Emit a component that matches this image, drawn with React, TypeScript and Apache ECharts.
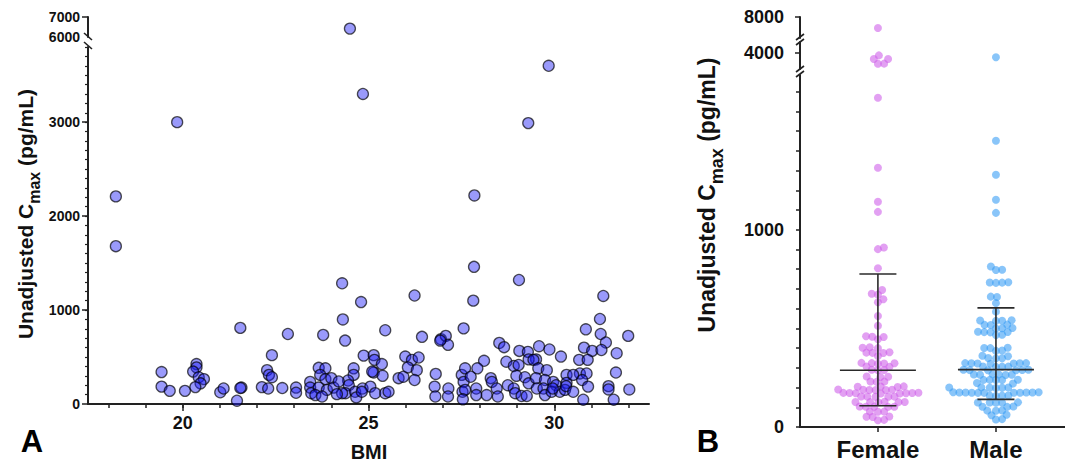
import React, { useEffect, useRef } from "react";
import * as echarts from "echarts";

const FONT = '"Liberation Sans", Arial, Helvetica, sans-serif';

// ---------- Panel A data (BMI vs Cmax) ----------
const aBmi = [
  18.2, 18.2, 19.85, 24.5, 24.85, 29.85, 29.3, 27.85, 27.84, 27.82, 29.05, 24.29, 24.8, 26.24, 31.32, 24.31, 24.37, 21.55, 22.83, 23.78,
  25.45, 27.56, 22.4, 26.44, 26.95, 27.08, 27.14, 26.93, 31.23, 30.85, 31.25, 31.39, 31.99, 31.68, 19.43, 19.43, 19.65, 20.06, 20.37, 20.37,
  20.28, 20.43, 20.57, 20.48, 20.34, 21.01, 21.1, 21.46, 21.58, 21.55, 22.13, 22.3, 22.27, 22.32, 22.4, 22.68, 23.05, 23.05, 23.43, 23.43,
  23.46, 23.66, 23.84, 23.7, 23.84, 24.0, 23.66, 23.88, 24.06, 23.57, 23.75, 24.6, 24.6, 24.45, 24.47, 24.38, 24.64, 24.67, 24.84, 24.87,
  25.14, 25.16, 25.36, 25.14, 25.38, 25.05, 25.18, 25.45, 25.54, 25.81, 25.94, 25.99, 26.17, 26.35, 26.06, 26.3, 26.24, 26.81, 26.78, 26.8,
  27.15, 27.14, 27.51, 27.56, 27.53, 31.66, 31.46, 31.46, 31.6, 32.02, 30.8, 31.02, 31.27, 30.67, 30.9, 30.69, 30.87, 30.75, 30.91, 30.78,
  28.52, 28.65, 29.06, 29.29, 29.51, 29.59, 29.87, 30.18, 28.71, 28.91, 29.04, 29.31, 29.44, 28.11, 27.93, 27.6, 27.75, 28.98, 29.21, 29.31,
  29.57, 29.8, 29.51, 29.75, 29.97, 30.05, 30.33, 30.33, 30.51, 28.75, 28.91, 28.95, 29.12, 29.26, 28.29, 28.32, 28.45, 28.48, 28.18, 27.9,
  27.9, 27.6, 27.54, 29.53, 29.71, 29.75, 29.93, 30.15, 30.29, 30.32, 30.51, 29.96, 24.29, 24.82, 25.1, 24.2, 24.15,
];
const aCmax = [
  2210, 1680, 3000, 6420, 3300, 3600, 2990, 2220, 1460, 1100, 1320, 1285, 1085, 1155, 1150, 900, 675, 810, 745, 735,
  785, 805, 520, 715, 690, 725, 630, 675, 905, 795, 745, 655, 725, 540, 340, 185, 140, 140, 425, 390,
  345, 285, 265, 220, 180, 125, 165, 35, 175, 170, 180, 165, 360, 310, 285, 170, 175, 120, 235, 175,
  115, 385, 380, 310, 265, 275, 175, 150, 175, 95, 80, 380, 310, 250, 200, 115, 130, 70, 165, 515,
  520, 470, 425, 335, 300, 185, 115, 115, 130, 275, 290, 505, 470, 495, 390, 360, 255, 320, 185, 80,
  165, 80, 310, 235, 130, 335, 190, 155, 45, 155, 600, 565, 575, 470, 470, 325, 325, 255, 185, 45,
  650, 605, 565, 555, 475, 615, 580, 505, 450, 405, 415, 475, 470, 460, 380, 380, 290, 300, 285, 220,
  380, 360, 275, 255, 235, 200, 310, 225, 310, 200, 165, 115, 85, 85, 275, 235, 165, 80, 95, 165,
  95, 150, 50, 165, 165, 95, 130, 130, 150, 190, 130, 165, 115, 130, 345, 240, 105,
];
const aXLabels = [20, 25, 30];
const aXMinor = [18, 19, 20, 21, 22, 23, 24, 25, 26, 27, 28, 29, 30, 31, 32];
const aYLabels = [0, 1000, 2000, 3000];
const aYMinor = Array.from({ length: 38 }, (_, i) => (i + 1) * 100);
const aYTopLabels = [6000, 7000];

// ---------- Panel B data (by sex) ----------
const categories = ["Female", "Male"];
const femaleValues = [
  6420, 3600, 3010, 2990, 2220, 2210, 1670, 1315, 1142, 1091,
  910, 902, 805, 695, 676, 672, 648, 633, 563, 513, 460, 458, 456, 445, 404, 402, 400,
  379, 377, 376, 375, 360, 325, 324, 323, 322, 321, 307, 305, 290, 289, 288, 256, 255, 254,
  231, 230, 229, 206, 205, 204, 203, 190, 189, 189, 188, 188, 187, 174, 173, 172, 172, 171, 171, 170, 170,
  155, 154, 154, 153, 153, 128, 127, 127, 126, 126, 125, 104, 103, 103, 102, 102, 79, 78, 77, 53, 52, 51, 36, 34,
];
const maleValues = [
  3300, 1452, 1279, 1152, 1086,
  814, 797, 796, 734, 733, 732, 731, 661, 659, 628, 585, 541, 540, 539, 538, 519, 518, 517,
  502, 501, 500, 483, 482, 481, 480, 468, 466, 402, 401, 400, 388, 386, 361, 359, 350, 349, 348,
  324, 324, 323, 323, 322, 322, 321, 307, 306, 306, 305, 290, 290, 289, 289, 288, 288,
  267, 266, 266, 265, 265, 264, 240, 239, 239, 238, 238, 223, 221, 201, 200, 200, 199, 199, 198,
  176, 176, 175, 175, 175, 175, 174, 174, 174, 173, 173, 160, 159, 159, 158, 125, 124, 124, 123, 123,
  104, 103, 102, 84, 83, 82, 62, 60, 40, 38,
];
// [lower whisker, centre line, upper whisker]
const femaleStats = [108, 288, 776];
const maleStats = [140, 291, 604];
const bYLowLabels = [0, 1000];
const bYLowTicks = Array.from({ length: 18 }, (_, i) => i * 100);
const bYMidLabels = [4000];
const bYTopLabels = [8000];

// ---------- layout constants ----------
const A_LEFT = 88, A_WIDTH = 561, A_XMIN = 17.45, A_XMAX = 32.55;
const A_LOW_TOP = 47, A_LOW_H = 357, A_LOW_MAX = 3800;
const A_TOP_TOP = 17, A_TOP_H = 20, A_TOP_MIN = 6000, A_TOP_MAX = 7000;

const B_LEFT = 800, B_WIDTH = 265, B_XMIN = 0.34, B_XMAX = 2.585;
const B_LOW_TOP = 75, B_LOW_H = 352, B_LOW_MAX = 1785;
const B_MID_TOP = 42, B_MID_H = 27, B_MID_MIN = 1330, B_MID_MAX = 5830;
const B_TOP_TOP = 17, B_TOP_H = 21, B_TOP_MIN = 5000, B_TOP_MAX = 8000;

function bYPx(v: number): number {
  if (v >= B_TOP_MIN) return B_TOP_TOP + B_TOP_H - ((v - B_TOP_MIN) / (B_TOP_MAX - B_TOP_MIN)) * B_TOP_H;
  if (v > B_LOW_MAX) return B_MID_TOP + B_MID_H - ((v - B_MID_MIN) / (B_MID_MAX - B_MID_MIN)) * B_MID_H;
  return B_LOW_TOP + B_LOW_H - (v / B_LOW_MAX) * B_LOW_H;
}

function swarmOffsets(values: number[], minDist: number): number[] {
  const idx = values.map((_, i) => i).sort((a, b) => values[a] - values[b]);
  const placed: { x: number; y: number }[] = [];
  const out = new Array(values.length).fill(0);
  const d2 = minDist * minDist;
  for (const i of idx) {
    const y = bYPx(values[i]);
    const near = placed.filter((p) => Math.abs(p.y - y) < minDist);
    const cands = [0];
    for (const p of near) {
      const dx = Math.sqrt(d2 - (p.y - y) * (p.y - y));
      cands.push(p.x + dx, p.x - dx);
    }
    cands.sort((a, b) => Math.abs(a) - Math.abs(b));
    let chosen = 0;
    for (const c of cands) {
      if (near.every((p) => (p.x - c) * (p.x - c) + (p.y - y) * (p.y - y) >= d2 - 0.01)) {
        chosen = c;
        break;
      }
    }
    placed.push({ x: chosen, y });
    out[i] = chosen;
  }
  return out;
}

const plain = (v: number) => String(Math.round(v));

export default function App() {
  const ref = useRef<HTMLDivElement>(null);
  useEffect(() => {
    document.body.style.margin = "0";
    if (!ref.current) return;
    const chart = echarts.init(ref.current, null, { renderer: "svg" });

    const axisLine = { show: true, lineStyle: { color: "#222", width: 2 } };
    const tickStyle = { color: "#222", width: 1.5 };
    const lbl = { fontFamily: FONT, fontWeight: "bold", color: "#111" };

    const aLow: number[][] = [];
    const aTop: number[][] = [];
    aBmi.forEach((b, i) => {
      const v = aCmax[i];
      if (v <= A_LOW_MAX) aLow.push([b, v]);
      else if (v >= A_TOP_MIN) aTop.push([b, v]);
    });

    const pxPerUnit = B_WIDTH / (B_XMAX - B_XMIN);
    const groups = [
      { vals: femaleValues, cat: 1, color: "rgba(205,90,232,0.72)" },
      { vals: maleValues, cat: 2, color: "rgba(50,155,245,0.72)" },
    ];
    const bSeries: any[] = [];
    groups.forEach((g) => {
      const offs = swarmOffsets(g.vals, 6.2);
      const low: number[][] = [], mid: number[][] = [], top: number[][] = [];
      g.vals.forEach((v, i) => {
        const pt = [g.cat + offs[i] / pxPerUnit, v];
        if (v >= B_TOP_MIN) top.push(pt);
        else if (v > B_LOW_MAX) mid.push(pt);
        else low.push(pt);
      });
      [[low, 3], [mid, 4], [top, 5]].forEach(([data, ax]: any) => {
        bSeries.push({
          type: "scatter",
          xAxisIndex: ax,
          yAxisIndex: ax,
          data,
          symbolSize: 8,
          itemStyle: { color: g.color },
          z: 2,
        });
      });
    });

    const scatterAStyle = {
      color: "rgba(25,25,245,0.55)",
      borderColor: "rgba(0,0,0,0.85)",
      borderWidth: 1.3,
    };

    const slash = (x1: number, y1: number, x2: number, y2: number) => ({
      type: "line",
      shape: { x1, y1, x2, y2 },
      style: { stroke: "#222", lineWidth: 1.6 },
      z: 100,
    });

    const option: any = {
      animation: false,
      grid: [
        { left: A_LEFT, width: A_WIDTH, top: A_LOW_TOP, height: A_LOW_H, containLabel: false, outerBoundsMode: "none" },
        { left: A_LEFT, width: A_WIDTH, top: A_TOP_TOP, height: A_TOP_H, containLabel: false, outerBoundsMode: "none" },
        { left: B_LEFT, width: B_WIDTH, top: B_LOW_TOP, height: B_LOW_H, containLabel: false, outerBoundsMode: "none" },
        { left: B_LEFT, width: B_WIDTH, top: B_MID_TOP, height: B_MID_H, containLabel: false, outerBoundsMode: "none" },
        { left: B_LEFT, width: B_WIDTH, top: B_TOP_TOP, height: B_TOP_H, containLabel: false, outerBoundsMode: "none" },
      ],
      xAxis: [
        {
          type: "value", gridIndex: 0, position: "bottom", min: A_XMIN, max: A_XMAX,
          axisLine, splitLine: { show: false },
          axisTick: { show: true, length: 7, lineStyle: tickStyle, customValues: aXLabels },
          axisLabel: { ...lbl, fontSize: 18, margin: 10, customValues: aXLabels, formatter: plain },
        },
        {
          type: "value", gridIndex: 0, position: "bottom", min: A_XMIN, max: A_XMAX,
          axisLine: { show: false }, splitLine: { show: false }, axisLabel: { show: false },
          axisTick: { show: true, length: 4, lineStyle: tickStyle, customValues: aXMinor },
        },
        { type: "value", gridIndex: 1, min: A_XMIN, max: A_XMAX, show: false },
        {
          type: "value", gridIndex: 2, position: "bottom", min: B_XMIN, max: B_XMAX,
          axisLine, splitLine: { show: false },
          axisTick: { show: true, length: 5, lineStyle: tickStyle, customValues: [1, 2] },
          axisLabel: {
            ...lbl, fontSize: 24, margin: 10, customValues: [1, 2],
            formatter: (v: number) => categories[Math.round(v) - 1] || "",
          },
        },
        { type: "value", gridIndex: 3, min: B_XMIN, max: B_XMAX, show: false },
        { type: "value", gridIndex: 4, min: B_XMIN, max: B_XMAX, show: false },
      ],
      yAxis: [
        {
          type: "value", gridIndex: 0, position: "left", min: 0, max: A_LOW_MAX,
          axisLine, splitLine: { show: false },
          axisTick: { show: true, length: 6, lineStyle: tickStyle, customValues: aYLabels },
          axisLabel: { ...lbl, fontSize: 14, margin: 8, customValues: aYLabels, formatter: plain },
        },
        {
          type: "value", gridIndex: 0, position: "left", min: 0, max: A_LOW_MAX,
          axisLine: { show: false }, splitLine: { show: false }, axisLabel: { show: false },
          axisTick: { show: true, length: 3, lineStyle: { color: "#222", width: 1.2 }, customValues: aYMinor },
        },
        {
          type: "value", gridIndex: 1, position: "left", min: A_TOP_MIN, max: A_TOP_MAX,
          axisLine, splitLine: { show: false },
          axisTick: { show: true, length: 6, lineStyle: tickStyle, customValues: [7000] },
          axisLabel: { ...lbl, fontSize: 14, margin: 8, customValues: aYTopLabels, formatter: plain },
        },
        {
          type: "value", gridIndex: 2, position: "left", min: 0, max: B_LOW_MAX,
          axisLine, splitLine: { show: false },
          axisTick: { show: true, length: 4, lineStyle: tickStyle, customValues: bYLowTicks },
          axisLabel: { ...lbl, fontSize: 18, margin: 16, customValues: bYLowLabels, formatter: plain },
        },
        {
          type: "value", gridIndex: 3, position: "left", min: B_MID_MIN, max: B_MID_MAX,
          axisLine, splitLine: { show: false },
          axisTick: { show: true, length: 5, lineStyle: tickStyle, customValues: bYMidLabels },
          axisLabel: { ...lbl, fontSize: 18, margin: 16, customValues: bYMidLabels, formatter: plain },
        },
        {
          type: "value", gridIndex: 4, position: "left", min: B_TOP_MIN, max: B_TOP_MAX,
          axisLine, splitLine: { show: false },
          axisTick: { show: true, length: 5, lineStyle: tickStyle, customValues: bYTopLabels },
          axisLabel: { ...lbl, fontSize: 18, margin: 16, customValues: bYTopLabels, formatter: plain },
        },
      ],
      series: [
        { type: "scatter", xAxisIndex: 0, yAxisIndex: 0, data: aLow, symbolSize: 11, itemStyle: scatterAStyle },
        { type: "scatter", xAxisIndex: 2, yAxisIndex: 2, data: aTop, symbolSize: 11, itemStyle: scatterAStyle, clip: false },
        ...bSeries,
        {
          type: "custom",
          xAxisIndex: 3,
          yAxisIndex: 3,
          z: 5,
          encode: { x: 0, y: [1, 2, 3] },
          data: [
            [1, ...femaleStats],
            [2, ...maleStats],
          ],
          renderItem: (params: any, api: any) => {
            const x = api.value(0);
            const lo = api.coord([x, api.value(1)]);
            const md = api.coord([x, api.value(2)]);
            const hi = api.coord([x, api.value(3)]);
            const style = { stroke: "#2a2a2a", lineWidth: 1.6 };
            const ln = (x1: number, y1: number, x2: number, y2: number) => ({ type: "line", shape: { x1, y1, x2, y2 }, style });
            return {
              type: "group",
              children: [
                ln(md[0], hi[1], md[0], lo[1]),
                ln(md[0] - 38, md[1], md[0] + 38, md[1]),
                ln(md[0] - 18.5, hi[1], md[0] + 18.5, hi[1]),
                ln(md[0] - 18.5, lo[1], md[0] + 18.5, lo[1]),
              ],
            };
          },
        },
      ],
      graphic: [
        slash(84, 33, 92, 40),
        slash(84, 42, 92, 49),
        slash(796, 40, 804, 34),
        slash(796, 45, 804, 39),
        slash(796, 72, 804, 66),
        slash(796, 77, 804, 71),
        {
          type: "text",
          x: 25.5,
          y: 214,
          rotation: Math.PI / 2,
          style: {
            text: "{m|Unadjusted C}{s|max}{m| (pg/mL)}",
            align: "center",
            verticalAlign: "middle",
            fill: "#111",
            rich: {
              m: { fontFamily: FONT, fontWeight: "bold", fontSize: 21, lineHeight: 34, fill: "#111" },
              s: { fontFamily: FONT, fontWeight: "bold", fontSize: 16, lineHeight: 16, verticalAlign: "bottom", fill: "#111" },
            },
          },
        },
        {
          type: "text",
          x: 707,
          y: 195,
          rotation: Math.PI / 2,
          style: {
            text: "{m|Unadjusted C}{s|max}{m| (pg/mL)}",
            align: "center",
            verticalAlign: "middle",
            fill: "#111",
            rich: {
              m: { fontFamily: FONT, fontWeight: "bold", fontSize: 23, lineHeight: 37, fill: "#111" },
              s: { fontFamily: FONT, fontWeight: "bold", fontSize: 18, lineHeight: 18, verticalAlign: "bottom", fill: "#111" },
            },
          },
        },
        {
          type: "text",
          x: 369,
          y: 452,
          style: { text: "BMI", align: "center", verticalAlign: "middle", font: `bold 20px ${FONT}`, fill: "#111" },
        },
        {
          type: "text",
          x: 32,
          y: 441,
          style: { text: "A", align: "center", verticalAlign: "middle", font: `bold 31px ${FONT}`, fill: "#000" },
        },
        {
          type: "text",
          x: 708,
          y: 441,
          style: { text: "B", align: "center", verticalAlign: "middle", font: `bold 31px ${FONT}`, fill: "#000" },
        },
      ],
    };
    chart.setOption(option);
    return () => chart.dispose();
  }, []);
  return <div ref={ref} style={{ width: 1065, height: 466 }} />;
}
